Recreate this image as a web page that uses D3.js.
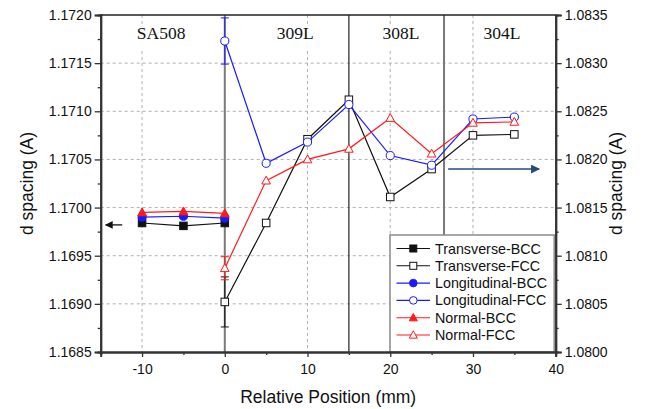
<!DOCTYPE html>
<html><head><meta charset="utf-8">
<script src="https://cdn.jsdelivr.net/npm/d3@7"></script>
<style>body{margin:0;background:#fff}svg{display:block}</style>
</head><body>
<svg id="c" width="649" height="409"></svg>
<script>
// ---- data ----
const xBCC = [-10, -5, 0];
const transverseBCC = [1.16984, 1.16981, 1.16984];
const longitudinalBCC = [1.16990, 1.16991, 1.16989];
const normalBCC = [1.16995, 1.16996, 1.16994];
const xFCC = [0, 5, 10, 15, 20, 25, 30, 35];
const transverseFCC = [1.08052, 1.08134, 1.08221, 1.08262, 1.08161, 1.08190, 1.08225, 1.08226];
const longitudinalFCC = [1.08323, 1.08196, 1.08218, 1.08257, 1.08204, 1.08194, 1.08242, 1.08244];
const normalFCC = [1.08087, 1.08178, 1.08200, 1.08211, 1.08243, 1.08206, 1.08238, 1.08239];
const errTransverseFCC = [0.00026, 0, 0, 0, 0, 0, 0, 0];
const errLongitudinalFCC = [0.00024, 0, 0, 0, 0, 0, 0, 0];
const errNormalFCC = [0.00012, 0, 0, 0, 0, 0, 0, 0];
const leftTicks = [1.1685, 1.1690, 1.1695, 1.1700, 1.1705, 1.1710, 1.1715, 1.1720];
const rightTicks = [1.0800, 1.0805, 1.0810, 1.0815, 1.0820, 1.0825, 1.0830, 1.0835];
const xTicks = [-10, 0, 10, 20, 30, 40];
const xMinor = [-5, 5, 15, 25, 35];
const regions = [{name: "SA508", x: -7.7}, {name: "309L", x: 8.5}, {name: "308L", x: 21.3}, {name: "304L", x: 33.5}];
const boundaries = [0, 15, 26.5];
const gridX = [-10, 10, 20, 30];
const gridY = [1.1690, 1.1695, 1.1700, 1.1705, 1.1710, 1.1715];

const series = [
  {name: "Transverse-BCC", x: xBCC, y: transverseBCC, axis: "L", color: "#111", shape: "square", filled: true},
  {name: "Transverse-FCC", x: xFCC, y: transverseFCC, axis: "R", color: "#111", shape: "square", filled: false, err: errTransverseFCC},
  {name: "Longitudinal-BCC", x: xBCC, y: longitudinalBCC, axis: "L", color: "#1a1aff", shape: "circle", filled: true},
  {name: "Longitudinal-FCC", x: xFCC, y: longitudinalFCC, axis: "R", color: "#1a1aff", shape: "circle", filled: false, err: errLongitudinalFCC},
  {name: "Normal-BCC", x: xBCC, y: normalBCC, axis: "L", color: "#ff1a1a", shape: "triangle", filled: true},
  {name: "Normal-FCC", x: xFCC, y: normalFCC, axis: "R", color: "#ff1a1a", shape: "triangle", filled: false, err: errNormalFCC}
];

// ---- layout ----
const L = 100.7, R = 555.7, T = 15, B = 352;
const x = d3.scaleLinear().domain([-15, 40]).range([L, R]);
const yL = d3.scaleLinear().domain([1.1685, 1.1720]).range([B, T]);
const yR = d3.scaleLinear().domain([1.0800, 1.0835]).range([B, T]);
const svg = d3.select("#c");
const sans = "'Liberation Sans', Arial, sans-serif";

// grid
svg.append("g").selectAll("line").data(gridY).join("line")
  .attr("x1", L).attr("x2", R).attr("y1", d => yL(d)).attr("y2", d => yL(d))
  .attr("stroke", "#b0b0b0").attr("stroke-dasharray", "3,3").attr("stroke-width", 1);
svg.append("g").selectAll("line").data(gridX).join("line")
  .attr("x1", d => x(d)).attr("x2", d => x(d)).attr("y1", T).attr("y2", B)
  .attr("stroke", "#b0b0b0").attr("stroke-dasharray", "3,3").attr("stroke-width", 1);

// boundaries
svg.append("g").selectAll("line").data(boundaries).join("line")
  .attr("x1", d => x(d)).attr("x2", d => x(d)).attr("y1", T).attr("y2", B)
  .attr("stroke", (d, i) => i === 1 ? "#222" : "#7a7a7a")
  .attr("stroke-width", (d, i) => i === 1 ? 1.2 : 2);

// region labels
const rg = svg.append("g");
regions.forEach(r => {
  const t = rg.append("text").attr("x", x(r.x)).attr("y", 38.5).attr("text-anchor", "middle")
    .attr("font-family", "'Liberation Serif', 'Times New Roman', serif").attr("font-size", 17.5)
    .attr("fill", "#111").text(r.name);
  const bb = t.node().getBBox();
  if (r.name !== "304L") {
    rg.insert("rect", "text").attr("x", bb.x - 1).attr("y", bb.y + 2).attr("width", bb.width + 2).attr("height", bb.height + 4).attr("fill", "#fff");
  }
});

// symbols
function drawMarker(g, shape, cx, cy, color, filled, size) {
  const fill = filled ? color : "#fff";
  if (shape === "square") {
    g.append("rect").attr("x", cx - size / 2).attr("y", cy - size / 2).attr("width", size).attr("height", size)
      .attr("fill", fill).attr("stroke", color).attr("stroke-width", 1);
  } else if (shape === "circle") {
    g.append("circle").attr("cx", cx).attr("cy", cy).attr("r", size / 2 + 0.3)
      .attr("fill", fill).attr("stroke", color).attr("stroke-width", 1);
  } else {
    const h = size * 1.0, w = size * 1.15;
    g.append("path").attr("d", `M${cx},${cy - h * 0.6}L${cx + w / 2},${cy + h * 0.45}L${cx - w / 2},${cy + h * 0.45}Z`)
      .attr("fill", fill).attr("stroke", color).attr("stroke-width", 1);
  }
}

// series
series.forEach(s => {
  const ys = s.axis === "L" ? yL : yR;
  const pts = s.x.map((xv, i) => [x(xv), ys(s.y[i])]);
  const g = svg.append("g");
  g.append("path").attr("d", d3.line()(pts)).attr("fill", "none").attr("stroke", s.color).attr("stroke-width", 1.2);
  if (s.err) {
    s.x.forEach((xv, i) => {
      const e = s.err[i];
      if (!e) return;
      const cx = x(xv), y1 = ys(s.y[i] + e), y2 = ys(s.y[i] - e);
      g.append("line").attr("x1", cx).attr("x2", cx).attr("y1", y1).attr("y2", y2).attr("stroke", s.color).attr("stroke-width", 1);
      [y1, y2].forEach(yy => g.append("line").attr("x1", cx - 4).attr("x2", cx + 4).attr("y1", yy).attr("y2", yy).attr("stroke", s.color).attr("stroke-width", 1));
    });
  }
  pts.forEach(p => drawMarker(g, s.shape, p[0], p[1], s.color, s.filled, 7.5));
});

// arrows
const defs = svg.append("defs");
defs.append("marker").attr("id", "ahL").attr("viewBox", "0 0 10 10").attr("refX", 9).attr("refY", 5)
  .attr("markerWidth", 7).attr("markerHeight", 6).attr("orient", "auto")
  .append("path").attr("d", "M0,0L10,5L0,10Z").attr("fill", "#111");
defs.append("marker").attr("id", "ahR").attr("viewBox", "0 0 10 10").attr("refX", 9).attr("refY", 5)
  .attr("markerWidth", 8).attr("markerHeight", 6).attr("orient", "auto")
  .append("path").attr("d", "M0,0L10,5L0,10Z").attr("fill", "#284a80");
svg.append("line").attr("x1", x(-12.4)).attr("x2", x(-14.4)).attr("y1", yL(1.16982)).attr("y2", yL(1.16982))
  .attr("stroke", "#111").attr("stroke-width", 1.3).attr("marker-end", "url(#ahL)");
svg.append("line").attr("x1", x(27.0)).attr("x2", x(38.0)).attr("y1", yR(1.08190)).attr("y2", yR(1.08190))
  .attr("stroke", "#284a80").attr("stroke-width", 1.5).attr("marker-end", "url(#ahR)");

// legend
const lg = svg.append("g");
const lx = 390, ly = 235;
lg.append("rect").attr("x", lx).attr("y", ly).attr("width", R - lx - 1.5).attr("height", B - ly)
  .attr("fill", "#fff").attr("stroke", "#8a8a8a").attr("stroke-width", 1.5);
series.forEach((s, i) => {
  const yy = 248.5 + i * 17.3;
  lg.append("line").attr("x1", 396.5).attr("x2", 430).attr("y1", yy).attr("y2", yy).attr("stroke", s.color).attr("stroke-width", 1.1);
  drawMarker(lg, s.shape, 413.3, yy, s.color, s.filled, 7);
  lg.append("text").attr("x", 435).attr("y", yy + 5).attr("font-family", sans).attr("font-size", 14.3).attr("fill", "#111").text(s.name);
});

// axes
const fmt = d3.format(".4f");
const axL = svg.append("g").attr("transform", `translate(${L},0)`)
  .call(d3.axisLeft(yL).tickValues(leftTicks).tickFormat(fmt).tickSize(6).tickPadding(3));
const axLm = svg.append("g").attr("transform", `translate(${L},0)`)
  .call(d3.axisLeft(yL).tickValues(leftTicks.slice(0, -1).map(d => d + 0.00025)).tickFormat("").tickSize(3));
const axR = svg.append("g").attr("transform", `translate(${R},0)`)
  .call(d3.axisRight(yR).tickValues(rightTicks).tickFormat(fmt).tickSize(6).tickPadding(3));
const axRm = svg.append("g").attr("transform", `translate(${R},0)`)
  .call(d3.axisRight(yR).tickValues(rightTicks.slice(0, -1).map(d => d + 0.00025)).tickFormat("").tickSize(3));
const axB = svg.append("g").attr("transform", `translate(0,${B})`)
  .call(d3.axisBottom(x).tickValues(xTicks).tickFormat(d => String(d)).tickSize(5).tickPadding(4));
const axBm = svg.append("g").attr("transform", `translate(0,${B})`)
  .call(d3.axisBottom(x).tickValues(xMinor).tickFormat("").tickSize(3));
[axL, axLm, axR, axRm, axB, axBm].forEach(a => {
  a.select(".domain").attr("stroke", "#333").attr("stroke-width", 2);
  a.selectAll(".tick line").attr("stroke", "#333").attr("stroke-width", 1.3);
  a.selectAll("text").attr("font-family", sans).attr("font-size", 14).attr("fill", "#111");
});
axB.selectAll("text").attr("dy", "0.9em");
// top border
svg.append("line").attr("x1", L).attr("x2", R).attr("y1", T).attr("y2", T).attr("stroke", "#222").attr("stroke-width", 1.5);

// axis titles
svg.append("text").attr("transform", `translate(33,${(T + B) / 2}) rotate(-90)`).attr("text-anchor", "middle")
  .attr("font-family", sans).attr("font-size", 17.5).attr("fill", "#111").text("d spacing (A)");
svg.append("text").attr("transform", `translate(622,${(T + B) / 2}) rotate(-90)`).attr("text-anchor", "middle")
  .attr("font-family", sans).attr("font-size", 17.5).attr("fill", "#111").text("d spacing (A)");
svg.append("text").attr("x", x(12.5)).attr("y", 403).attr("text-anchor", "middle")
  .attr("font-family", sans).attr("font-size", 17.5).attr("fill", "#111").text("Relative Position (mm)");
</script>
</body></html>
